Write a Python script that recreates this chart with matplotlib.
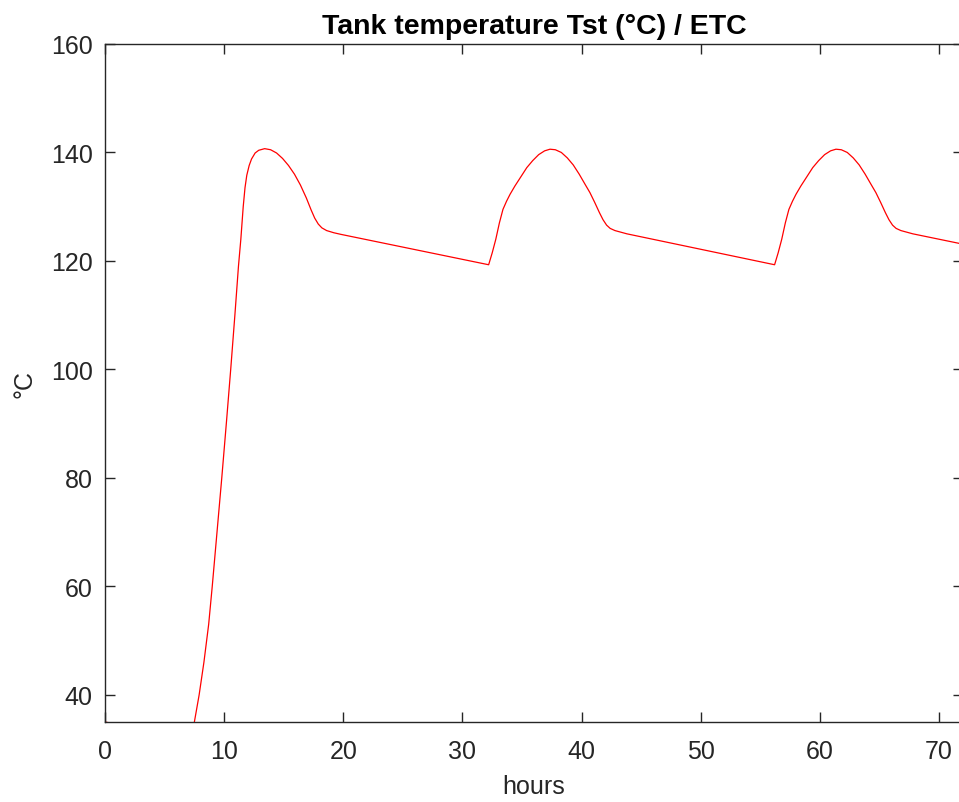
import numpy as np
import matplotlib.pyplot as plt

plt.rcParams['font.family'] = ['Liberation Sans', 'DejaVu Sans']

# tank temperature (hours, degC)
hours = [0.0, 1.0, 6.5, 7.0, 7.5, 7.9, 8.3, 8.7, 9.0, 9.4, 9.8, 10.2, 10.55,
         10.9, 11.2, 11.4, 11.5, 11.6, 11.75, 11.9, 12.1, 12.3, 12.6, 12.9,
         13.4, 13.9, 14.4, 14.9, 15.4, 15.9, 16.4, 16.9, 17.3, 17.6, 17.9,
         18.2, 18.6, 19.2, 19.8,
         32.2, 32.5, 32.8, 33.1, 33.4, 33.7, 34.0, 34.4, 34.9, 35.4, 35.9,
         36.4, 36.9, 37.35, 37.8, 38.3, 38.8, 39.3, 39.8, 40.3, 40.7, 41.1,
         41.5, 41.8, 42.1, 42.4, 42.8, 43.3, 43.8,
         56.2, 56.5, 56.8, 57.1, 57.4, 57.7, 58.0, 58.4, 58.9, 59.4, 59.9,
         60.4, 60.9, 61.35, 61.8, 62.3, 62.8, 63.3, 63.8, 64.3, 64.7, 65.1,
         65.5, 65.8, 66.1, 66.4, 66.8, 67.3, 67.8, 72.0]
temp = [35.0, 34.6, 30.0, 31.5, 35.0, 40.0, 46.0, 53.0, 60.0, 70.0, 80.0,
        90.5, 100.0, 110.0, 119.0, 124.0, 127.0, 130.0, 133.5, 135.8, 137.6,
        138.8, 139.9, 140.4, 140.7, 140.5, 139.9, 138.9, 137.6, 136.0, 134.0,
        131.6, 129.4, 127.9, 126.8, 126.1, 125.6, 125.2, 124.9,
        119.3, 121.5, 124.0, 127.0, 129.5, 131.0, 132.3, 133.8, 135.5, 137.2,
        138.5, 139.6, 140.3, 140.6, 140.5, 140.0, 139.0, 137.7, 136.0, 134.1,
        132.6, 130.8, 128.9, 127.6, 126.6, 126.0, 125.6, 125.3, 125.0,
        119.3, 121.5, 124.0, 127.0, 129.5, 131.0, 132.3, 133.8, 135.5, 137.2,
        138.5, 139.6, 140.3, 140.6, 140.5, 140.0, 139.0, 137.7, 136.0, 134.1,
        132.6, 130.8, 128.9, 127.6, 126.6, 126.0, 125.6, 125.3, 125.0, 123.1]

xticks = [0, 10, 20, 30, 40, 50, 60, 70]
yticks = [40, 60, 80, 100, 120, 140, 160]

fig = plt.figure(figsize=(9.59, 8.03), dpi=100)
ax = fig.add_axes([0.1095, 0.0996, 0.8945, 0.8444])

ax.plot(hours, temp, color='red', lw=0.9, solid_joinstyle='round')

ax.set_xlim(0, 72)
ax.set_ylim(35, 160)
ax.set_xticks(xticks)
ax.set_yticks(yticks)

dark = '#262626'
for s in ax.spines.values():
    s.set_color(dark)
    s.set_linewidth(1.0)
ax.tick_params(direction='in', top=True, right=True, length=7, width=1.0,
               colors=dark, labelsize=18)
ax.tick_params(axis='x', pad=12)
ax.tick_params(axis='y', pad=9)

ax.set_title('Tank temperature Tst (°C) / ETC', fontsize=20.5, fontweight='bold',
             pad=8)
ax.set_xlabel('hours', fontsize=18, color=dark, labelpad=8)
ax.set_ylabel('°C', fontsize=18, color=dark, labelpad=10)

fig.savefig('out.png', dpi=100)
